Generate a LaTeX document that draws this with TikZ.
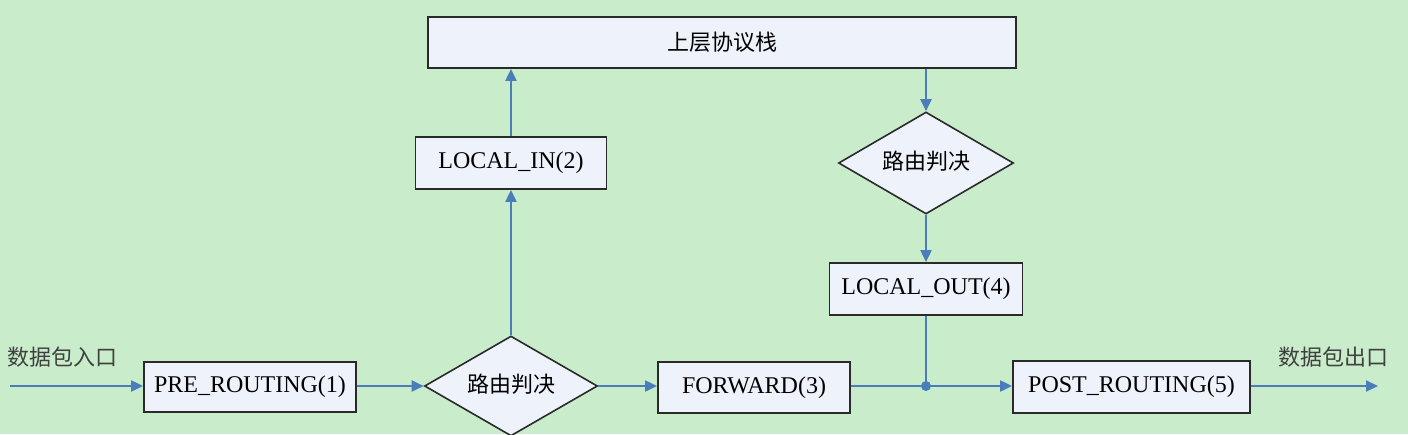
\documentclass[tikz,border=0pt]{standalone}
\usepackage{fontspec}
\setmainfont{Liberation Serif}
\newfontfamily\cjk{Noto Sans CJK SC}
\usetikzlibrary{shapes.geometric,arrows.meta,calc}
\definecolor{bgc}{HTML}{C9ECCB}
\definecolor{boxfill}{HTML}{EEF2FA}
\definecolor{linec}{HTML}{4A7EBB}
\definecolor{edgec}{HTML}{2A2A2A}
\tikzset{
  x=1pt,y=-1pt,
  stepbox/.style={draw=edgec,line width=1.8pt,fill=boxfill,inner sep=0pt,font=\fontsize{24}{27}\selectfont},
  decide/.style={diamond,draw=edgec,line width=1.6pt,fill=boxfill,inner sep=0pt,aspect=1.7,text height=15pt,text depth=3pt,font=\cjk\fontsize{22}{25}\selectfont},
  flow/.style={draw=linec,line width=2pt,-{Triangle[length=12pt,width=11pt]}},
  plain/.style={draw=linec,line width=2pt},
  lbl/.style={font=\cjk\fontsize{22}{25}\selectfont,text=black!75,inner sep=0pt}
}
\begin{document}
\begin{tikzpicture}
\useasboundingbox[fill=bgc] (0,0) rectangle (1408,434);
\node[stepbox,minimum width=588pt,minimum height=51pt] (top) at (722,42.5) {\cjk\fontsize{22}{25}\selectfont 上层协议栈};
\node[stepbox,minimum width=191pt,minimum height=52pt] (lin) at (511,163) {LOCAL\_IN(2)};
\node[decide,minimum width=175pt,minimum height=102pt] (d2) at (926,163) {路由判决};
\node[stepbox,minimum width=193pt,minimum height=52pt] (lout) at (926,289) {LOCAL\_OUT(4)};
\node[stepbox,minimum width=212pt,minimum height=50pt] (pre) at (250,387) {PRE\_ROUTING(1)};
\node[decide,minimum width=173pt,minimum height=100pt] (d1) at (511,386) {路由判决};
\node[stepbox,minimum width=192pt,minimum height=51pt] (fwd) at (754,387.5) {FORWARD(3)};
\node[stepbox,minimum width=237pt,minimum height=52pt] (post) at (1131.5,387) {POST\_ROUTING(5)};
\coordinate (in) at (10,386);
\coordinate (out) at (1378,386);
\coordinate (join) at (926,386);
\node[lbl] (inl) at (62,357) {数据包入口};
\node[lbl] (outl) at (1333,357) {数据包出口};
\draw[flow] (in) -- (pre.west |- in);
\draw[flow] (pre.east |- d1.west) -- (d1.west);
\draw[flow] (d1.east) -- (fwd.west |- d1.east);
\draw[flow] (d1.north) -- (lin.south);
\draw[flow] (lin.north) -- (lin.north |- top.south);
\draw[flow] (d2.north |- top.south) -- (d2.north);
\draw[flow] (d2.south) -- (lout.north);
\draw[plain] (lout.south) -- (join);
\draw[flow] (fwd.east |- join) -- (post.west |- join);
\fill[linec] (join) circle (5pt);
\draw[flow] (post.east |- out) -- (out);
\end{tikzpicture}
\end{document}
